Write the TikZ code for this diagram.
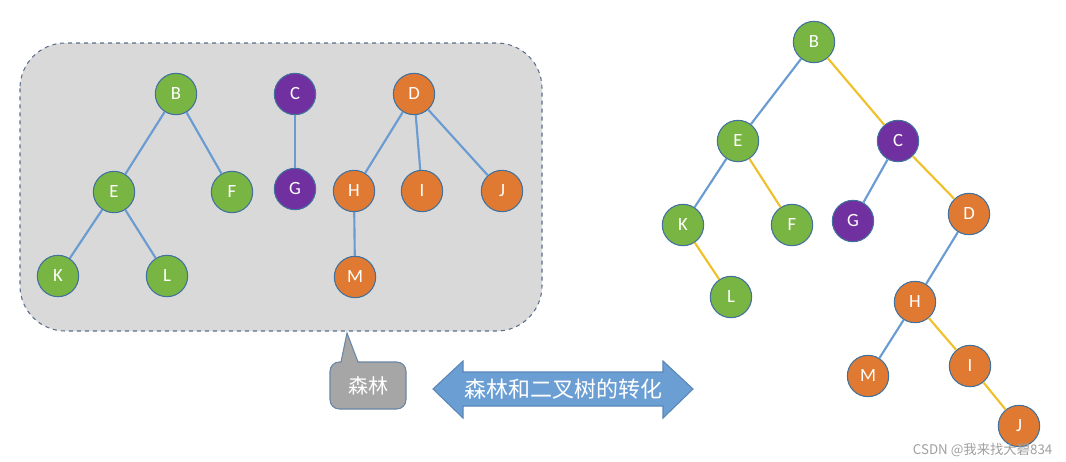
\documentclass[tikz,border=0pt]{standalone}
\usepackage{fontspec}
\setmainfont{Carlito}
\newfontfamily\cjk{Noto Sans CJK SC}
\begin{document}
\begin{tikzpicture}[x=0.75pt,y=-0.75pt,
  vtx/.style={circle,draw=nodeborder,line width=0.8pt,minimum size=31pt,inner sep=0pt,text=white,font=\fontsize{14}{16}\selectfont},
  gn/.style={vtx,fill=vgreen},
  pn/.style={vtx,fill=vpurple},
  on/.style={vtx,fill=vorange},
  bl/.style={draw=eblue,line width=1.6pt},
  yl/.style={draw=eyellow,line width=1.6pt}]
\definecolor{nodeborder}{HTML}{41719C}
\definecolor{vgreen}{HTML}{78B543}
\definecolor{vpurple}{HTML}{7030A0}
\definecolor{vorange}{HTML}{E07A32}
\definecolor{eblue}{HTML}{6A9BD1}
\definecolor{eyellow}{HTML}{EEC12A}
\definecolor{boxfill}{HTML}{D9D9D9}
\definecolor{boxline}{HTML}{5B6F8C}
\definecolor{callfill}{HTML}{A6A6A6}
\definecolor{callline}{HTML}{6A86A4}
\definecolor{arrfill}{HTML}{6B9FD4}
\definecolor{arrline}{HTML}{5A86B8}
\useasboundingbox (0,0) rectangle (1066,461);
% forest box
\draw[fill=boxfill,draw=boxline,dashed,line width=0.8pt,rounded corners=34pt] (20,43) rectangle (542,331);
% left forest
\node[gn] (B1) at (176,94) {B};
\node[gn] (E1) at (114,192) {E};
\node[gn] (F1) at (232,192) {F};
\node[gn] (K1) at (58,276) {K};
\node[gn] (L1) at (167,276) {L};
\node[pn] (C1) at (295,94) {C};
\node[pn] (G1) at (295,189) {G};
\node[on] (D1) at (414,94) {D};
\node[on] (H1) at (354,191) {H};
\node[on] (I1) at (422,191) {I};
\node[on] (J1) at (502,191) {J};
\node[on] (M1) at (355,277) {M};
\draw[bl] (B1) -- (E1); \draw[bl] (B1) -- (F1);
\draw[bl] (E1) -- (K1); \draw[bl] (E1) -- (L1);
\draw[bl] (C1) -- (G1);
\draw[bl] (D1) -- (H1); \draw[bl] (D1) -- (I1); \draw[bl] (D1) -- (J1);
\draw[bl] (H1) -- (M1);
% right binary tree
\node[gn] (B2) at (814,42) {B};
\node[gn] (E2) at (738,141) {E};
\node[pn] (C2) at (898,141) {C};
\node[gn] (K2) at (683,225) {K};
\node[gn] (F2) at (792,225) {F};
\node[pn] (G2) at (853,221) {G};
\node[on] (D2) at (969,214) {D};
\node[gn] (L2) at (731,297) {L};
\node[on] (H2) at (915,302) {H};
\node[on] (M2) at (868,376) {M};
\node[on] (I2) at (970,366) {I};
\node[on] (J2) at (1019,426) {J};
\draw[bl] (B2) -- (E2); \draw[yl] (B2) -- (C2);
\draw[bl] (E2) -- (K2); \draw[yl] (E2) -- (F2);
\draw[yl] (K2) -- (L2);
\draw[bl] (C2) -- (G2); \draw[yl] (C2) -- (D2);
\draw[bl] (D2) -- (H2);
\draw[bl] (H2) -- (M2); \draw[yl] (H2) -- (I2);
\draw[yl] (I2) -- (J2);
% callout
\draw[fill=callfill,draw=callline,line width=0.8pt]
  (341,362) -- (347,333) -- (358,362) [rounded corners=7pt] -- (406,362) -- (406,409) -- (330,409) -- (330,362) [sharp corners] -- cycle;
\node[text=white,font=\cjk\fontsize{15}{17}\selectfont] (forest) at (368,386) {森林};
% double arrow
\draw[fill=arrfill,draw=arrline,line width=0.8pt]
  (433,389) -- (463,361) -- (463,372) -- (663,372) -- (663,361) -- (693,389) -- (663,418) -- (663,406) -- (463,406) -- (463,418) -- cycle;
\node[text=white,font=\cjk\fontsize{16.5}{18}\selectfont] (conv) at (563,389) {森林和二叉树的转化};
% watermark
\node[text=gray!75,font=\cjk\fontsize{10}{12}\selectfont,anchor=east] (wm) at (1057,450) {CSDN @我来找大碧834};
\end{tikzpicture}
\end{document}
